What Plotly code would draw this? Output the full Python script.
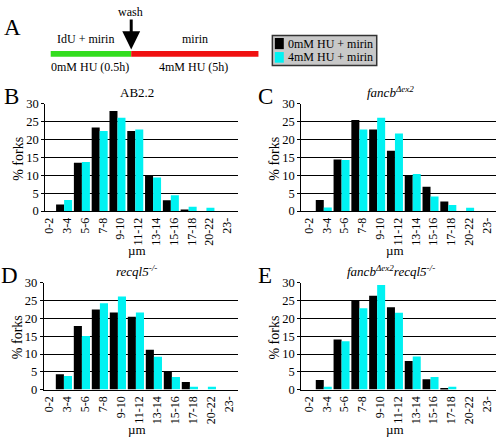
import plotly.graph_objects as go

W, H = 496, 443
FONT = "Liberation Serif"

cats = ["0-2", "3-4", "5-6", "7-8", "9-10", "11-12", "13-14", "15-16", "17-18", "20-22", "23-"]

b_0mm = [0, 1.8, 13.5, 23.4, 28.0, 22.4, 10.0, 3.0, 0.4, 0, 0]
b_4mm = [0, 3.1, 13.7, 22.4, 26.1, 22.8, 9.4, 4.4, 1.2, 0.9, 0]
c_0mm = [0, 3.1, 14.4, 25.5, 22.8, 16.9, 10.0, 6.8, 2.7, 0, 0]
c_4mm = [0, 1.0, 14.3, 22.8, 26.1, 21.7, 10.4, 4.1, 1.7, 0.9, 0]
d_0mm = [0, 4.3, 17.9, 22.5, 21.7, 20.5, 11.2, 5.1, 2.1, 0, 0]
d_4mm = [0, 3.8, 15.1, 24.3, 26.2, 21.7, 9.2, 3.5, 0.8, 0.8, 0]
e_0mm = [0, 2.7, 14.1, 25.1, 26.4, 23.2, 8.0, 2.9, 0.4, 0, 0]
e_4mm = [0, 0.8, 13.6, 22.9, 29.4, 21.6, 9.3, 3.5, 0.8, 0, 0]

series_names = ["0mM HU + mirin", "4mM HU + mirin"]
colors = ["#000000", "#00F2F2"]

panels = [
    ("B", "AB2.2", b_0mm, b_4mm),
    ("C", "<i>fancb<sup>Δex2</sup></i>", c_0mm, c_4mm),
    ("D", "<i>recql5<sup>-/-</sup></i>", d_0mm, d_4mm),
    ("E", "<i>fancb<sup>Δex2</sup>recql5<sup>-/-</sup></i>", e_0mm, e_4mm),
]

def px(x):
    return x / W

def py(y):
    return 1 - y / H

# pixel boxes: left, right, top, bottom, x-range
boxes = [
    (42.5, 236, 100, 210.7, [-0.06, 10.75]),
    (300, 496, 100, 210.7, [-0.27, 10.68]),
    (41, 236, 285, 395, [-0.12, 10.65]),
    (300, 496, 285, 395, [-0.27, 10.68]),
]

fig = go.Figure()
annotations = []
shapes = []
layout = {}

for i, ((letter, title, v0, v4), (l, r, t, b, xr)) in enumerate(zip(panels, boxes)):
    n = "" if i == 0 else str(i + 1)
    for name, vals, col in zip(series_names, [v0, v4], colors):
        fig.add_trace(go.Bar(x=cats, y=vals, name=name, marker=dict(color=col, line=dict(width=0)),
                             xaxis="x" + n, yaxis="y" + n, showlegend=False))
    layout["xaxis" + n] = dict(
        domain=[px(l), px(r)], anchor="y" + n, type="category", range=xr,
        showline=True, linecolor="black", linewidth=1, ticks="", tickangle=-90,
        tickfont=dict(family=FONT, size=12, color="black"), showgrid=False,
        ticklabelshift=3, ticklabelstandoff=1,
    )
    layout["yaxis" + n] = dict(
        domain=[py(b), py(t)], anchor="x" + n, range=[0, 30], dtick=5,
        showline=True, linecolor="black", linewidth=1, ticks="outside", ticklen=3,
        tickcolor="black", gridcolor="black", gridwidth=1, zeroline=False,
        tickfont=dict(family=FONT, size=12.5, color="black"),
    )
    cx = (l + r) / 2
    tx = cx - 4 if i in (0, 2) else cx - 8
    annotations.append(dict(text=title, x=px(tx), y=py(t - 12), xref="paper", yref="paper",
                            showarrow=False, font=dict(family=FONT, size=13, color="black"),
                            xanchor="center", yanchor="middle"))
    annotations.append(dict(text=letter, x=px(l - 34 if l < 100 else l - 36), y=py(t - 8),
                            xref="paper", yref="paper", showarrow=False,
                            font=dict(family=FONT, size=23, color="black"),
                            xanchor="center", yanchor="middle"))
    annotations.append(dict(text="% forks", x=px(l - 27), y=py((t + b) / 2 + 1), xref="paper", yref="paper",
                            showarrow=False, textangle=-90,
                            font=dict(family=FONT, size=14, color="black"),
                            xanchor="center", yanchor="middle"))
    annotations.append(dict(text="µm", x=px(cx - 4), y=py(b + 41), xref="paper", yref="paper",
                            showarrow=False, font=dict(family=FONT, size=13, color="black"),
                            xanchor="center", yanchor="middle"))

# Panel A: protocol scheme
annotations.append(dict(text="A", x=px(10), y=py(21), xref="paper", yref="paper", showarrow=False,
                        font=dict(family=FONT, size=23, color="black"), xanchor="center", yanchor="middle"))
for txt, x, y in [("wash", 128, 5), ("IdU + mirin", 83, 33), ("mirin", 193, 33),
                  ("0mM HU (0.5h)", 88, 62), ("4mM HU (5h)", 192, 62)]:
    annotations.append(dict(text=txt, x=px(x), y=py(y), xref="paper", yref="paper", showarrow=False,
                            font=dict(family=FONT, size=12, color="black"),
                            xanchor="center", yanchor="middle"))

shapes.append(dict(type="rect", xref="paper", yref="paper", x0=px(48), x1=px(129), y0=py(51.5), y1=py(45.5),
                   fillcolor="#33DD1E", line=dict(width=0)))
shapes.append(dict(type="rect", xref="paper", yref="paper", x0=px(129), x1=px(257), y0=py(51.5), y1=py(45.5),
                   fillcolor="#F01010", line=dict(width=0)))
# arrow
ax = 129
pts = [(ax - 1.5, 13), (ax + 1.5, 13), (ax + 1.5, 25), (ax + 9, 25), (ax, 44), (ax - 9, 25), (ax - 1.5, 25)]
path = "M " + " L ".join(f"{px(x):.5f},{py(y):.5f}" for x, y in pts) + " Z"
shapes.append(dict(type="path", xref="paper", yref="paper", path=path, fillcolor="black", line=dict(width=0)))

# legend box
shapes.append(dict(type="rect", xref="paper", yref="paper", x0=px(271), x1=px(376), y0=py(60.5), y1=py(29.5),
                   fillcolor="#C8C8C8", line=dict(color="#333333", width=1.5)))
for (y0, y1), col, name, ty in [((32, 43.5), colors[0], series_names[0], 38),
                                ((46.5, 57.5), colors[1], series_names[1], 52)]:
    shapes.append(dict(type="rect", xref="paper", yref="paper", x0=px(273.5), x1=px(282.5), y0=py(y1), y1=py(y0),
                       fillcolor=col, line=dict(width=0)))
    annotations.append(dict(text=name, x=px(284.5), y=py(ty), xref="paper", yref="paper", showarrow=False,
                            font=dict(family=FONT, size=12, color="black"),
                            xanchor="left", yanchor="middle"))

fig.update_layout(
    width=W, height=H, margin=dict(l=0, r=0, t=0, b=0),
    paper_bgcolor="white", plot_bgcolor="white",
    bargap=0.1, bargroupgap=0, barmode="group",
    annotations=annotations, shapes=shapes, showlegend=False,
    font=dict(family=FONT, color="black"),
    **layout,
)

fig.write_html("out.html", config={"displayModeBar": False},
               post_script="document.body.style.margin='0';document.body.style.overflow='hidden';")
